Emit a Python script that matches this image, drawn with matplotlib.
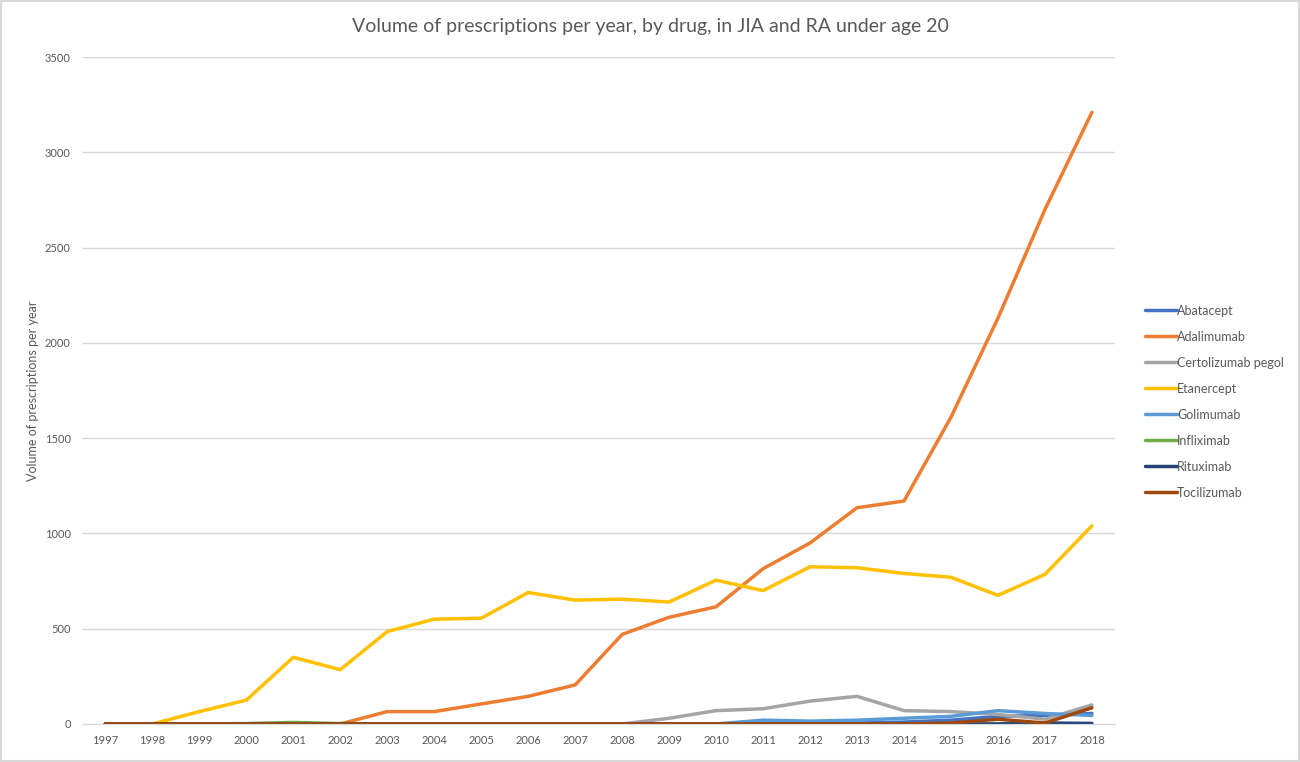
import matplotlib.pyplot as plt
import numpy as np

plt.rcParams['font.family'] = ['Lato', 'DejaVu Sans']

years = [str(y) for y in range(1997, 2019)]

abatacept = [0, 0, 0, 0, 0, 0, 0, 0, 0, 0, 0, 0, 0, 0, 0, 0, 5, 10, 20, 40, 45, 55]
adalimumab = [0, 0, 0, 0, 0, 0, 65, 65, 105, 145, 205, 470, 560, 615, 815, 950, 1135, 1170, 1610, 2130, 2700, 3210]
certolizumab = [0, 0, 0, 0, 0, 0, 0, 0, 0, 0, 0, 0, 30, 70, 80, 120, 145, 70, 65, 50, 25, 100]
etanercept = [0, 0, 65, 125, 350, 285, 485, 550, 555, 690, 650, 655, 640, 755, 700, 825, 820, 790, 770, 675, 785, 1040]
golimumab = [0, 0, 0, 0, 0, 0, 0, 0, 0, 0, 0, 0, 0, 0, 20, 15, 20, 30, 40, 70, 55, 45]
infliximab = [0, 0, 0, 2, 8, 2, 0, 0, 0, 0, 0, 0, 0, 0, 0, 0, 0, 0, 0, 0, 0, 0]
rituximab = [0, 0, 0, 0, 0, 0, 0, 0, 0, 0, 0, 0, 0, 0, 0, 0, 0, 0, 0, 0, 5, 3]
tocilizumab = [0, 0, 0, 0, 0, 0, 0, 0, 0, 0, 0, 0, 0, 0, 0, 0, 0, 0, 5, 25, 5, 85]

series = [
    ("Abatacept", abatacept, "#4472C4"),
    ("Adalimumab", adalimumab, "#ED7D31"),
    ("Certolizumab pegol", certolizumab, "#A5A5A5"),
    ("Etanercept", etanercept, "#FFC000"),
    ("Golimumab", golimumab, "#5B9BD5"),
    ("Infliximab", infliximab, "#70AD47"),
    ("Rituximab", rituximab, "#264478"),
    ("Tocilizumab", tocilizumab, "#9E480E"),
]

fig = plt.figure(figsize=(13, 7.62), dpi=100)
ax = fig.add_axes([0.063, 0.0499, 0.795, 0.8752])

x = np.arange(len(years))
for name, vals, col in series:
    ax.plot(x, vals, color=col, lw=2.5, label=name, solid_capstyle='round')

ax.set_xlim(-0.5, len(years) - 0.5)
ax.set_ylim(0, 3500)
ax.set_yticks(range(0, 3501, 500))
ax.set_xticks(x)
ax.set_xticklabels(years)
ax.tick_params(length=0, labelsize=8, colors='#595959', pad=8)
ax.grid(axis='y', color='#D9D9D9', lw=1)
ax.set_axisbelow(True)
for s in ['top', 'right', 'left']:
    ax.spines[s].set_visible(False)
ax.spines['bottom'].set_color('#D9D9D9')

ax.set_ylabel("Volume of prescriptions per year", fontsize=9, color='#595959', labelpad=4)
fig.text(0.5, 0.965, "Volume of prescriptions per year, by drug, in JIA and RA under age 20",
         ha='center', va='center', fontsize=14, color='#595959')

fig.legend(loc='upper left', bbox_to_anchor=(0.872, 0.615), frameon=False,
           fontsize=9, handlelength=2.6, handletextpad=0.0, labelspacing=1.12,
           labelcolor='#595959')

# 外枠
fig.patches.append(plt.Rectangle((0.001, 0.001), 0.998, 0.998, transform=fig.transFigure,
                                 fill=False, edgecolor='#D9D9D9', lw=1.5))

plt.savefig("out.png", dpi=100)
